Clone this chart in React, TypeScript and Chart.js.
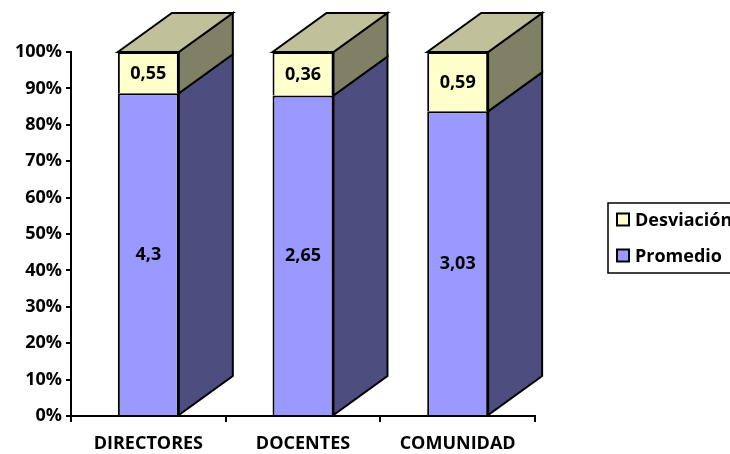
import React, { useEffect, useRef } from "react";
import { Chart, registerables } from "chart.js";

Chart.register(...registerables);

const categories = ["DIRECTORES", "DOCENTES", "COMUNIDAD"];
const promedio = [4.3, 2.65, 3.03];
const desviacion = [0.55, 0.36, 0.59];
const seriesLabels = ["Promedio", "Desviación"];
const yMax = 100;
const yStep = 10;

const FONT = "'Open Sans', sans-serif";
const DX = 54;
const DY = -39;

const frontColors = ["#9999FF", "#FFFFCC"];
const sideColors = ["#4D4D80", "#808066"];
const topColors = ["#4D4D80", "#C0C09A"];

const totals = promedio.map((p, i) => p + desviacion[i]);
const pctPromedio = promedio.map((p, i) => (p / totals[i]) * 100);
const pctDesviacion = desviacion.map((d, i) => (d / totals[i]) * 100);
const rawValues = [promedio, desviacion];

const fmt = (v: number) => String(v).replace(".", ",");

function poly(ctx: CanvasRenderingContext2D, pts: number[][], fill: string) {
  ctx.beginPath();
  ctx.moveTo(pts[0][0], pts[0][1]);
  for (let k = 1; k < pts.length; k++) ctx.lineTo(pts[k][0], pts[k][1]);
  ctx.closePath();
  ctx.fillStyle = fill;
  ctx.fill();
  ctx.lineWidth = 2;
  ctx.strokeStyle = "#000";
  ctx.stroke();
}

const threeD = {
  id: "threeD",
  afterDatasetsDraw(chart: any) {
    const ctx: CanvasRenderingContext2D = chart.ctx;
    const metas = chart.getSortedVisibleDatasetMetas();
    ctx.save();
    const lastIdx = metas.length - 1;
    metas.forEach((meta: any, di: number) => {
      meta.data.forEach((bar: any) => {
        const { x, y, base, width } = bar.getProps(["x", "y", "base", "width"], true);
        const left = x - width / 2;
        const right = x + width / 2;
        const top = Math.min(y, base);
        const bottom = Math.max(y, base);
        poly(ctx, [[right, top], [right + DX, top + DY], [right + DX, bottom + DY], [right, bottom]], sideColors[meta.index]);
        if (di === lastIdx) {
          poly(ctx, [[left, top], [left + DX, top + DY], [right + DX, top + DY], [right, top]], topColors[meta.index]);
        }
      });
    });
    // value labels
    ctx.font = `bold 18px ${FONT}`;
    ctx.fillStyle = "#000";
    ctx.textAlign = "center";
    ctx.textBaseline = "middle";
    metas.forEach((meta: any) => {
      meta.data.forEach((bar: any, i: number) => {
        const { x, y, base } = bar.getProps(["x", "y", "base"], true);
        ctx.fillText(fmt(rawValues[meta.index][i]), x, (y + base) / 2 + 1);
      });
    });
    // legend
    const lx = 608, ly = 203, lw = 140, lh = 70;
    ctx.lineWidth = 1.5;
    ctx.strokeStyle = "#000";
    ctx.fillStyle = "#fff";
    ctx.fillRect(lx, ly, lw, lh);
    ctx.strokeRect(lx, ly, lw, lh);
    const order = [1, 0];
    const rowsY = [219.5, 255.5];
    ctx.textAlign = "left";
    order.forEach((dsIdx, r) => {
      const cy = rowsY[r];
      ctx.fillStyle = frontColors[dsIdx];
      ctx.fillRect(617, cy - 6, 12, 12);
      ctx.lineWidth = 2;
      ctx.strokeRect(617, cy - 6, 12, 12);
      ctx.fillStyle = "#000";
      ctx.font = `bold 18px ${FONT}`;
      ctx.fillText(chart.data.datasets[dsIdx].label, 635, cy + 1);
    });
    ctx.restore();
  },
};

export default function App() {
  const ref = useRef<HTMLCanvasElement | null>(null);
  useEffect(() => {
    if (!ref.current) return;
    const chart = new Chart(ref.current, {
      type: "bar",
      data: {
        labels: categories,
        datasets: [
          {
            label: seriesLabels[0],
            data: pctPromedio,
            backgroundColor: frontColors[0],
            borderColor: "#000",
            borderWidth: 2,
            categoryPercentage: 1,
            barPercentage: 0.394,
          },
          {
            label: seriesLabels[1],
            data: pctDesviacion,
            backgroundColor: frontColors[1],
            borderColor: "#000",
            borderWidth: 2,
            categoryPercentage: 1,
            barPercentage: 0.394,
          },
        ],
      },
      options: {
        responsive: false,
        animation: false,
        layout: { padding: { top: 52, right: 195, left: 0, bottom: 0 } },
        plugins: { legend: { display: false }, tooltip: { enabled: false } },
        scales: {
          x: {
            stacked: true,
            grid: { display: true, drawOnChartArea: false, drawTicks: true, tickLength: 6, color: "#000", lineWidth: 2, offset: true },
            border: { display: true, color: "#000", width: 2 },
            ticks: { color: "#000", font: { family: FONT, weight: "bold", size: 18 }, padding: 11, maxRotation: 0 },
            afterFit: (s: any) => { s.height = 38; },
          },
          y: {
            stacked: true,
            min: 0,
            max: yMax,
            grid: { display: true, drawOnChartArea: false, drawTicks: true, tickLength: 5, color: "#000", lineWidth: 2 },
            border: { display: true, color: "#000", width: 2 },
            ticks: { stepSize: yStep, color: "#000", font: { family: FONT, weight: "bold", size: 18 }, padding: 4, callback: (v: any) => v + "%" },
            afterFit: (s: any) => { s.width = 71; },
          },
        },
      },
      plugins: [threeD],
    });
    return () => chart.destroy();
  }, []);
  return (
    <div style={{ position: "absolute", left: 0, top: 0, width: 730, height: 454, background: "#fff" }}>
      <canvas ref={ref} width={730} height={454} style={{ width: 730, height: 454, display: "block" }} />
    </div>
  );
}
